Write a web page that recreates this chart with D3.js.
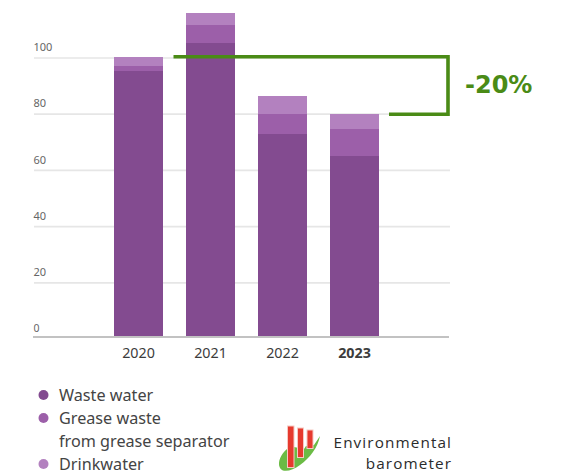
<!DOCTYPE html>
<html><head><meta charset="utf-8">
<script src="https://cdn.jsdelivr.net/npm/d3@7"></script>
<style>html,body{margin:0;padding:0;background:#fff}svg{display:block}</style>
</head><body><div id="c"></div>
<script>
const years=["2020","2021","2022","2023"];
const wasteWater=[95.4,105.3,73,65.1];
const greaseWaste=[1.8,6.4,7,9.6];
const drinkwater=[3.1,4.3,6.5,5.3];
const seriesColors=["#834b90","#9c5fa9","#b381bf"];
const yTicks=[0,20,40,60,80,100];
const legendLines=[["Waste water"],["Grease waste","from grease separator"],["Drinkwater"]];
const reduction="-20%";
const W=584,H=474,font="'Noto Sans',sans-serif";
const svg=d3.select("#c").append("svg").attr("width",W).attr("height",H);
const y=d3.scaleLinear().domain([0,100]).range([339,58]);
const baseY=336;
const x=d3.scaleBand().domain(years).range([114,379]).paddingInner(23/72).paddingOuter(0);
const bw=x.bandwidth();
// grid
svg.append("g").selectAll("line").data(yTicks.filter(d=>d>0)).join("line")
 .attr("x1",34).attr("x2",450).attr("y1",y).attr("y2",y).attr("stroke","#e6e6e6").attr("stroke-width",1.7);
svg.append("g").selectAll("text").data(yTicks).join("text")
 .attr("x",33.5).attr("y",d=>d?y(d)-6.8:332).text(d=>d)
 .attr("font-family",font).attr("font-size",d=>d?11:10.5).attr("fill","#666");
svg.append("line").attr("x1",33).attr("x2",449).attr("y1",337).attr("y2",337).attr("stroke","#aeaeae").attr("stroke-width",1.7);
// bars
const rows=years.map((k,i)=>({k,a:wasteWater[i],b:greaseWaste[i],c:drinkwater[i]}));
const stack=d3.stack().keys(["a","b","c"])(rows);
const py=v=>Math.min(baseY,Math.round(y(v)));
svg.append("g").selectAll("g").data(stack).join("g").attr("fill",(d,i)=>seriesColors[i])
 .selectAll("rect").data(d=>d).join("rect")
 .attr("x",d=>x(d.data.k)).attr("width",bw)
 .attr("y",d=>py(d[1])).attr("height",d=>py(d[0])-py(d[1]));
// x labels
svg.append("g").selectAll("text").data(years).join("text")
 .attr("x",d=>x(d)+bw/2).attr("y",358).attr("text-anchor","middle").text(d=>d)
 .attr("font-family",font).attr("font-size",14.3).attr("fill","#3c3c3c")
 .attr("font-weight",d=>d==="2023"?700:400);
// bracket
const yTop=56.8, yBot=y(80);
svg.append("path").attr("d",d3.line()([[173.5,yTop],[448,yTop],[448,yBot],[389,yBot]]))
 .attr("fill","none").attr("stroke","#4a8b16").attr("stroke-width",3.6);
svg.append("text").attr("x",465).attr("y",93).text(reduction)
 .attr("font-family","'DejaVu Sans',sans-serif").attr("font-weight",700).attr("font-size",24).attr("fill","#4a8b16");
// legend
const ly=[395,418,464];
const lg=svg.append("g");
seriesColors.forEach((c,i)=>{
 lg.append("circle").attr("cx",43.5).attr("cy",ly[i]).attr("r",5).attr("fill",c);
 legendLines[i].forEach((t,j)=>lg.append("text").attr("x",59).attr("y",ly[i]+6+j*22.5).text(t)
  .attr("font-family",font).attr("font-size",16.2).attr("fill","#444"));
});
// logo
const lo=svg.append("g");
lo.append("path").attr("d","M320 436 C318 447 310 458 300 465 C292 471 283 473 280 468 C277 462 281 454 287 449 L294 447 L304 449 L306 446 L314 445 Z").attr("fill","#6bbb45");
lo.selectAll("rect").data([[287.5,426,6.5,41.5],[297.5,428,6,29.5],[307,430,6,18.5]]).join("rect")
 .attr("x",d=>d[0]).attr("y",d=>d[1]).attr("width",d=>d[2]).attr("height",d=>d[3])
 .attr("fill","#e63a2e").attr("stroke","#f6c9c2").attr("stroke-width",1);
[["Environmental",448],["barometer",469]].forEach(d=>svg.append("text").attr("x",452).attr("y",d[1]).attr("text-anchor","end").text(d[0])
 .attr("font-family","'Open Sans',sans-serif").attr("font-size",15.3).attr("letter-spacing",1.1).attr("fill","#2b2b2b"));
</script></body></html>
